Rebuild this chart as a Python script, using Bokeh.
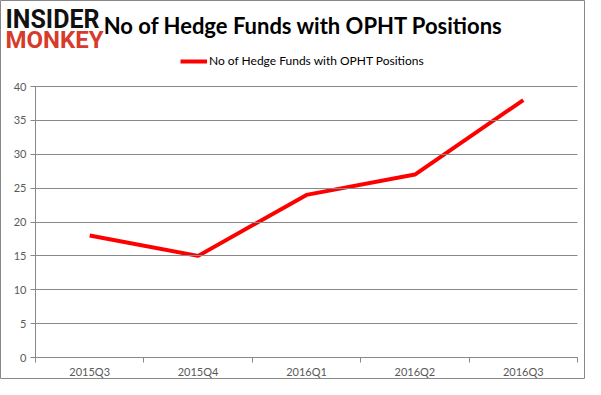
from bokeh.plotting import figure
from bokeh.models import Range1d, FixedTicker, Label, Legend, LegendItem, LinearAxis
from bokeh.embed import file_html
from bokeh.resources import INLINE

# ---- data ----
categories = ["2015Q3", "2015Q4", "2016Q1", "2016Q2", "2016Q3"]
hedge_funds = [18, 15, 24, 27, 38]
series_name = "No of Hedge Funds with OPHT Positions"
title_text = "No of Hedge Funds with OPHT Positions"
y_ticks = [0, 5, 10, 15, 20, 25, 30, 35, 40]
y_max = 40

# ---- layout (pixels) ----
W, H = 585, 379
PL, PR, PT, PB = 35, 577, 86, 357   # plot area edges on the canvas
GRAY = "#898989"
TXT = "#595959"
FONT = "Lato"
RED = "#FF0000"
SHIFT = 8  # label baseline correction

n = len(categories)
px_x = (PR - PL) / n
px_y = (PB - PT) / y_max
x_range = Range1d(-PL / px_x, n + (W - PR) / px_x)
y_range = Range1d(-(H - PB) / px_y, y_max + PT / px_y)

p = figure(width=W, height=H, output_backend="svg", toolbar_location=None,
           x_range=x_range, y_range=y_range, x_axis_type=None, y_axis_type=None,
           min_border=0)
p.outline_line_color = "#888888"
p.xgrid.grid_line_color = None
p.ygrid.grid_line_color = None

xs = [i + 0.5 for i in range(n)]
r = p.line(xs, hedge_funds, line_color=RED, line_width=4)

# y axis with long inward ticks acting as gridlines
yaxis = LinearAxis(fixed_location=0, bounds=(0, y_max), ticker=FixedTicker(ticks=y_ticks))
yaxis.axis_line_color = GRAY
yaxis.major_tick_line_color = GRAY
yaxis.major_tick_out = 5
yaxis.major_tick_in = int(PR - PL)
yaxis.minor_tick_line_color = None
yaxis.major_label_standoff = 4
yaxis.major_label_text_font = FONT
yaxis.major_label_text_font_size = "11px"
yaxis.major_label_text_color = TXT
p.add_layout(yaxis, "left")

# x axis: labels at category centres, ticks at boundaries
xaxis = LinearAxis(fixed_location=0, bounds=(0, n),
                   ticker=FixedTicker(ticks=xs, minor_ticks=list(range(n + 1))))
xaxis.major_label_overrides = {x: c for x, c in zip(xs, categories)}
xaxis.axis_line_color = GRAY
xaxis.major_tick_line_color = None
xaxis.major_tick_out = 0
xaxis.major_tick_in = 0
xaxis.minor_tick_line_color = GRAY
xaxis.minor_tick_out = 5
xaxis.minor_tick_in = 0
xaxis.major_label_standoff = 2
xaxis.major_label_text_font = FONT
xaxis.major_label_text_font_size = "11px"
xaxis.major_label_text_color = TXT
p.add_layout(xaxis, "below")

# legend
legend = Legend(items=[LegendItem(label=series_name, renderers=[r])],
                location=(180, H - 68), padding=0, margin=0, spacing=0,
                border_line_color=None, background_fill_alpha=0,
                glyph_width=27, glyph_height=14, label_height=14, label_standoff=2,
                label_text_font=FONT, label_text_font_size="12px", label_text_color="#000000")
p.add_layout(legend)

# title
p.add_layout(Label(x=303, y=H - 33 + SHIFT, x_units="screen", y_units="screen", text=title_text,
                   text_align="center", text_baseline="alphabetic", text_font=FONT,
                   text_font_size="22px", text_font_style="bold", text_color="#000000"))

# logo
p.add_layout(Label(x=5, y=H - 27 + SHIFT, x_units="screen", y_units="screen", text="INSIDER",
                   text_align="left", text_baseline="alphabetic", text_font="Roboto",
                   text_font_size="25px", text_font_style="bold", text_color="#111111"))
p.add_layout(Label(x=5, y=H - 47 + SHIFT, x_units="screen", y_units="screen", text="MONKEY",
                   text_align="left", text_baseline="alphabetic", text_font="Roboto",
                   text_font_size="24px", text_font_style="bold", text_color="#D63B2B"))

open("out.html", "w").write(file_html(p, INLINE))
